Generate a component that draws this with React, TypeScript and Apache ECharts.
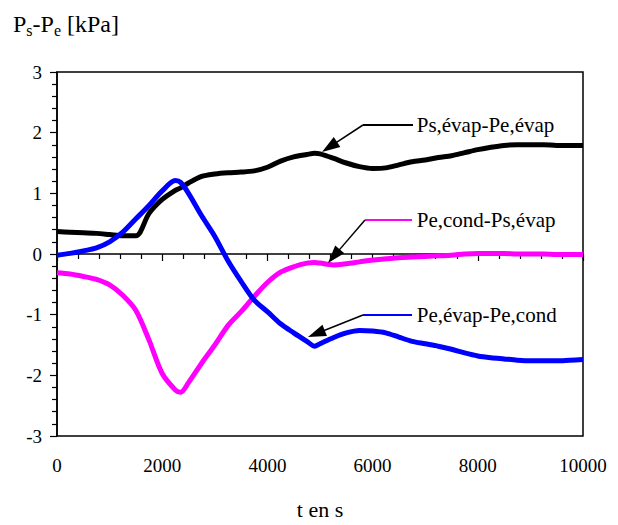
import React, { useEffect, useRef } from "react";
import * as echarts from "echarts";

const times = [0, 250, 500, 750, 1000, 1250, 1500, 1750, 2000, 2250, 2350, 2500, 2750, 3000, 3250, 3500, 3750, 4000, 4250, 4500, 4750, 4900, 5000, 5250, 5500, 5750, 6000, 6250, 6500, 6750, 7000, 7250, 7500, 7750, 8000, 8250, 8500, 8750, 9000, 9250, 9500, 9750, 10000];

const psEvapPeEvap = [0.37, 0.36, 0.35, 0.34, 0.32, 0.30, 0.30, 0.67, 0.90, 1.05, 1.09, 1.17, 1.28, 1.32, 1.34, 1.35, 1.37, 1.43, 1.53, 1.60, 1.64, 1.66, 1.65, 1.58, 1.50, 1.44, 1.41, 1.42, 1.47, 1.52, 1.55, 1.59, 1.62, 1.67, 1.72, 1.76, 1.79, 1.80, 1.80, 1.80, 1.79, 1.79, 1.79];

const peEvapPeCond = [-0.02, 0.01, 0.05, 0.10, 0.20, 0.36, 0.58, 0.80, 1.04, 1.21, 1.18, 1.00, 0.63, 0.29, -0.11, -0.45, -0.76, -0.95, -1.15, -1.30, -1.44, -1.52, -1.48, -1.38, -1.30, -1.26, -1.27, -1.30, -1.37, -1.44, -1.48, -1.52, -1.57, -1.63, -1.68, -1.71, -1.73, -1.75, -1.76, -1.76, -1.76, -1.75, -1.74];

const peCondPsEvap = [-0.31, -0.33, -0.37, -0.42, -0.51, -0.68, -0.93, -1.42, -1.97, -2.24, -2.28, -2.12, -1.80, -1.50, -1.18, -0.95, -0.70, -0.47, -0.30, -0.21, -0.15, -0.14, -0.15, -0.18, -0.16, -0.13, -0.10, -0.08, -0.06, -0.05, -0.04, -0.03, -0.02, 0.00, 0.01, 0.01, 0.01, 0.00, 0.00, 0.00, -0.01, -0.01, -0.01];

const seriesNames = ["Ps,évap-Pe,évap", "Pe,cond-Ps,évap", "Pe,évap-Pe,cond"];
const seriesColors = ["#000000", "#ff00ff", "#0000ff"];
const yTicks = { min: -3, max: 3, interval: 1 };
const xTicks = { min: 0, max: 10000, interval: 2000 };
const xTitle = "t en s";

const FONT = "Liberation Serif";

function measure(text: string, size: number): number {
  const c = document.createElement("canvas").getContext("2d");
  if (!c) return text.length * size * 0.5;
  c.font = `${size}px Liberation Serif`;
  return c.measureText(text).width;
}

function arrow(x0: number, y0: number, x1: number, y1: number) {
  const dx = x1 - x0, dy = y1 - y0;
  const L = Math.hypot(dx, dy);
  const ux = dx / L, uy = dy / L;
  const len = 18, hw = 6;
  const bx = x1 - ux * len, by = y1 - uy * len;
  return [
    { type: "line", shape: { x1: x0, y1: y0, x2: bx + ux * 2, y2: by + uy * 2 }, style: { stroke: "#000", lineWidth: 1.5 }, z: 100 },
    { type: "polygon", shape: { points: [[x1, y1], [bx - uy * hw, by + ux * hw], [bx + uy * hw, by - ux * hw]] }, style: { fill: "#000" }, z: 100 },
  ];
}

export default function App() {
  const ref = useRef<HTMLDivElement>(null);
  useEffect(() => {
    document.body.style.margin = "0";
    if (!ref.current) return;
    const chart = echarts.init(ref.current, null, { renderer: "svg" });

    const mk = (vals: number[]) => times.map((t, i) => [t, vals[i]]);

    const big = 24, small = 16;
    const mainY = 23.6, subY = 30;
    let tx = 13;
    const titleParts: any[] = [];
    const pieces: [string, boolean][] = [["P", false], ["s", true], ["-P", false], ["e", true], [" [kPa]", false]];
    for (const [txt, sub] of pieces) {
      const sz = sub ? small : big;
      titleParts.push({
        type: "text",
        x: tx,
        y: sub ? subY : mainY,
        style: { text: txt, font: `${sz}px ${FONT}`, fill: "#000", align: "left", verticalAlign: "middle" },
      });
      tx += measure(txt, sz);
    }

    const labelX = 416.7;
    const annots: any[] = [];
    const ann = [
      { ty: 125, hx0: 363, hx1: 413, tip: [322, 152], color: seriesColors[0], name: seriesNames[0] },
      { ty: 220, hx0: 365, hx1: 412, tip: [328, 263], color: seriesColors[1], name: seriesNames[1] },
      { ty: 315, hx0: 363, hx1: 412, tip: [308, 337], color: seriesColors[2], name: seriesNames[2] },
    ];
    for (const a of ann) {
      annots.push({ type: "line", shape: { x1: a.hx0, y1: a.ty, x2: a.hx1, y2: a.ty }, style: { stroke: a.color, lineWidth: 2 }, z: 100 });
      annots.push(...arrow(a.hx0, a.ty, a.tip[0], a.tip[1]));
      annots.push({
        type: "text",
        x: labelX,
        y: a.ty,
        style: { text: a.name, font: `21px ${FONT}`, fill: "#000", align: "left", verticalAlign: "middle" },
        z: 100,
      });
    }

    const axisLbl = { color: "#000", fontSize: 19, fontFamily: FONT };

    chart.setOption({
      animation: false,
      backgroundColor: "#fff",
      textStyle: { fontFamily: FONT },
      grid: { left: 57, top: 72, width: 526, height: 365, show: true, borderColor: "#000", borderWidth: 1.5, backgroundColor: "transparent" },
      xAxis: {
        type: "value",
        min: xTicks.min,
        max: xTicks.max,
        interval: xTicks.interval,
        axisLine: { show: true, lineStyle: { color: "#000", width: 1.5 } },
        axisTick: { show: true, length: 7, lineStyle: { color: "#000", width: 1.2 } },
        minorTick: { show: true, splitNumber: 5, length: 5, lineStyle: { color: "#000", width: 1.2 } },
        splitLine: { show: false },
        axisLabel: { ...axisLbl, margin: 20, formatter: (v: number) => String(v) },
        name: xTitle,
        nameLocation: "middle",
        nameGap: 62,
        nameTextStyle: { color: "#000", fontSize: 22, fontFamily: FONT },
      },
      yAxis: {
        type: "value",
        min: yTicks.min,
        max: yTicks.max,
        interval: yTicks.interval,
        axisLine: { show: true, lineStyle: { color: "#000", width: 1.5 } },
        axisTick: { show: true, length: 7, lineStyle: { color: "#000", width: 1.2 } },
        minorTick: { show: true, splitNumber: 5, length: 5, lineStyle: { color: "#000", width: 1.2 } },
        splitLine: { show: false },
        axisLabel: { ...axisLbl, margin: 15, formatter: (v: number) => String(v) },
      },
      series: [
        { name: seriesNames[0], type: "line", data: mk(psEvapPeEvap), smooth: 0.3, showSymbol: false, lineStyle: { color: seriesColors[0], width: 5 }, itemStyle: { color: seriesColors[0] }, z: 2 },
        { name: seriesNames[1], type: "line", data: mk(peCondPsEvap), smooth: 0.3, showSymbol: false, lineStyle: { color: seriesColors[1], width: 5 }, itemStyle: { color: seriesColors[1] }, z: 3 },
        { name: seriesNames[2], type: "line", data: mk(peEvapPeCond), smooth: 0.3, showSymbol: false, lineStyle: { color: seriesColors[2], width: 5 }, itemStyle: { color: seriesColors[2] }, z: 4 },
      ],
      graphic: [...titleParts, ...annots],
    });
    return () => chart.dispose();
  }, []);
  return <div ref={ref} style={{ width: 618, height: 525 }} />;
}
